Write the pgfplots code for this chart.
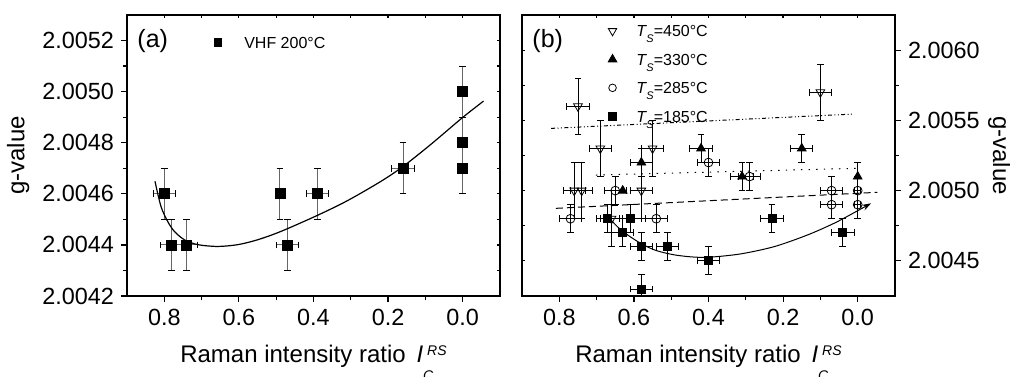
\documentclass[border=0pt]{standalone}
\usepackage{fontspec}
\setmainfont{Liberation Sans}
\usepackage{pgfplots}
\pgfplotsset{compat=1.18}
\usepackage{pgfplotstable}
\usetikzlibrary{arrows.meta}

% ---------- data: panel (a) ----------
\pgfplotstableread{
x y ex ey
0.80 2.0046 0.03 0.0001
0.78 2.0044 0.03 0.0001
0.74 2.0044 0.03 0.0001
0.47 2.0044 0.03 0.0001
0.39 2.0046 0.03 0.0001
0.16 2.0047 0.03 0.0001
}\vhfA
\pgfplotstableread{
x y ey
0.49 2.0046 0.0001
0.00 2.0050 0.0001
0.00 2.0048 0.0001
0.00 2.0047 0.0001
}\vhfB
\pgfplotstableread{
x y
0.825 2.004649
0.809 2.004551
0.791 2.004492
0.773 2.004453
0.746 2.004420
0.710 2.004401
0.657 2.004394
0.603 2.004401
0.550 2.004420
0.487 2.004453
0.389 2.004516
0.308 2.004574
0.219 2.004649
0.159 2.004708
0.085 2.004794
0.000 2.004899
-0.056 2.004963
}\fitA

% ---------- data: panel (b) ----------
\pgfplotstableread{
x y ex ey
0.75 2.0056 0.03 0.0002
0.69 2.0053 0.03 0.0002
0.55 2.0053 0.03 0.0002
0.76 2.0050 0.03 0.0002
0.74 2.0050 0.03 0.0002
0.58 2.0050 0.03 0.0002
0.66 2.0048 0.03 0.0002
0.10 2.0057 0.03 0.0002
}\tA
\pgfplotstableread{
x y ex ey
0.58 2.0052 0.03 0.0001
0.42 2.0053 0.03 0.0001
0.31 2.0051 0.03 0.0001
0.15 2.0053 0.03 0.0001
}\tB
\pgfplotstableread{
x y ey
0.00 2.0051 0.0001
}\tBy
\pgfplotstableread{
x y
0.63 2.0050
}\tBn
\pgfplotstableread{
x y ex ey
0.77 2.0048 0.03 0.0001
0.65 2.0050 0.03 0.0001
0.54 2.0048 0.03 0.0001
0.40 2.0052 0.03 0.0001
0.29 2.0051 0.03 0.0001
0.07 2.0050 0.03 0.0001
0.07 2.0049 0.03 0.0001
0.00 2.0050 0.008 0.0001
0.00 2.0049 0.008 0.0001
}\tC
\pgfplotstableread{
x y ex ey
0.67 2.0048 0.03 0.0001
0.61 2.0048 0.03 0.0001
0.63 2.0047 0.03 0.0001
0.58 2.0046 0.03 0.0001
0.51 2.0046 0.03 0.0001
0.40 2.0045 0.03 0.0001
0.58 2.0043 0.03 0.0001
0.23 2.0048 0.03 0.0001
0.04 2.0047 0.03 0.0001
}\tD

\pgfplotsset{
  panel/.style={scale only axis, width=186.5pt, height=140.5pt, anchor=south west,
    x dir=reverse, xmin=-0.1, xmax=0.9, xtick={0,0.2,0.4,0.6,0.8},
    minor x tick num=1, minor y tick num=1,
    axis line style={line width=0.7pt}, tick style={line width=0.6pt, black},
    scaled ticks=false,
    tick label style={font=\fontsize{11.7}{14}\selectfont},
    /pgf/number format/assume math mode=true,
    xticklabel style={/pgf/number format/.cd, fixed, fixed zerofill, precision=1},
    yticklabel style={/pgf/number format/.cd, fixed, fixed zerofill, precision=4}},
  outer/.style={tick align=outside, xtick pos=bottom, major tick length=3pt, minor tick length=2pt},
  inner/.style={tick align=inside, xtick pos=top, major tick length=1.7pt, minor tick length=1.7pt,
    xticklabels={}, yticklabels={}},
  ebA/.style={error bars/.cd, x dir=both, x explicit, y dir=both, y explicit,
    error bar style={black!60, line width=0.5pt},
    error mark options={rotate=90, black, mark size=1.7pt, line width=0.5pt}},
  ebB/.style={error bars/.cd, x dir=both, x explicit, y dir=both, y explicit,
    error bar style={black, line width=0.45pt},
    error mark options={rotate=90, black, mark size=1.7pt, line width=0.45pt}},
  ebBy/.style={error bars/.cd, y dir=both, y explicit,
    error bar style={black, line width=0.45pt},
    error mark options={rotate=90, black, mark size=1.7pt, line width=0.45pt}},
  leg/.style={legend cell align=left, legend style={draw=none, fill=none, inner sep=0pt,
    font=\fontsize{8}{9.6}\selectfont, nodes={inner sep=0pt, text height=5.8pt, text depth=0pt},
    row sep=8.4pt}},
  legend image code/.code={\path (0pt,0pt) (17pt,0pt); \draw[#1] plot coordinates {(8.5pt,0pt)};},
  xlab/.style={every axis x label/.style={at={(axis description cs:0.5,0)}, anchor=base,
    yshift=-33.3pt, font=\fontsize{12}{14}\selectfont},
    xlabel={Raman intensity ratio\hspace{0.45em}\textit{I}\rlap{\raisebox{-9pt}{\fontsize{7}{8}\selectfont\textit{C}}}\hspace{2pt}\raisebox{3.5pt}{\fontsize{7}{8}\selectfont\textit{RS}}}},
}

\begin{document}
\begin{tikzpicture}
\useasboundingbox (0,0) rectangle (505pt,188pt);

% ===== panel (a) =====
\begin{axis}[panel, inner, at={(63.5pt,40pt)}, ymin=2.0042, ymax=2.0053,
  ytick={2.0042,2.0044,2.0046,2.0048,2.0050,2.0052}, ytick pos=right]
\end{axis}
\begin{axis}[panel, outer, xlab, at={(63.5pt,40pt)}, ymin=2.0042, ymax=2.0053,
  ytick={2.0042,2.0044,2.0046,2.0048,2.0050,2.0052}, ytick pos=left,
  every axis y label/.style={at={(axis description cs:-0.292,0.5)}, anchor=center, rotate=90,
    font=\fontsize{12}{14}\selectfont},
  ylabel={g-value},
  leg, legend style={at={(axis description cs:0.196,0.9246)}, anchor=north west, column sep=4.5pt}]
  \addlegendimage{mark=square*, mark size=1.9pt, black}
  \addlegendentry{VHF 200°C}
  \addplot[only marks, mark=square*, mark size=2.5pt, black, forget plot, ebA]
    table[x=x, y=y, x error=ex, y error=ey] {\vhfA};
  \addplot[only marks, mark=square*, mark size=2.5pt, black, forget plot,
    error bars/.cd, y dir=both, y explicit, error bar style={black!60, line width=0.5pt},
    error mark options={rotate=90, black, mark size=1.7pt, line width=0.5pt}]
    table[x=x, y=y, y error=ey] {\vhfB};
  \addplot[black, line width=0.6pt, smooth, no marks, forget plot] table[x=x, y=y] {\fitA};
  \node[anchor=west, inner sep=0pt, font=\fontsize{12.5}{15}\selectfont] at (axis description cs:0.027,0.907) {(a)};
\end{axis}

% ===== panel (b) =====
\begin{axis}[panel, inner, at={(261pt,40pt)}, ymin=2.00425, ymax=2.00625,
  ytick={2.0045,2.0050,2.0055,2.0060}, ytick pos=left]
\end{axis}
\begin{axis}[panel, outer, xlab, at={(261pt,40pt)}, ymin=2.00425, ymax=2.00625,
  ytick={2.0045,2.0050,2.0055,2.0060}, ytick pos=right, yticklabel pos=right,
  every axis y label/.style={at={(axis description cs:1.28,0.5)}, anchor=center, rotate=-90,
    font=\fontsize{12}{14}\selectfont},
  ylabel={g-value},
  leg, legend style={at={(axis description cs:0.195,0.965)}, anchor=north west, column sep=3.2pt}]
  \addlegendimage{mark=triangle, mark options={rotate=180}, mark size=2.4pt, black}
  \addlegendentry{\textit{T}\kern-0.3pt\raisebox{-3pt}{\fontsize{5.5}{6}\selectfont\textit{S}}=450°C}
  \addlegendimage{mark=triangle*, mark size=2.5pt, black}
  \addlegendentry{\textit{T}\kern-0.3pt\raisebox{-3pt}{\fontsize{5.5}{6}\selectfont\textit{S}}=330°C}
  \addlegendimage{mark=o, mark size=1.9pt, black}
  \addlegendentry{\textit{T}\kern-0.3pt\raisebox{-3pt}{\fontsize{5.5}{6}\selectfont\textit{S}}=285°C}
  \addlegendimage{mark=square*, mark size=1.9pt, black}
  \addlegendentry{\textit{T}\kern-0.3pt\raisebox{-3pt}{\fontsize{5.5}{6}\selectfont\textit{S}}=185°C}

  % trend lines
  \addplot[black, line width=0.5pt, no marks, forget plot,
    dash pattern=on 2pt off 1.2pt on 0.5pt off 1.2pt on 0.5pt off 1.2pt]
    coordinates {(0.822,2.005443) (0.011,2.005545)};
  \addplot[black, line width=0.5pt, no marks, forget plot, dash pattern=on 0.7pt off 3.1pt]
    coordinates {(0.702,2.005111) (0.0,2.005159)};
  \addplot[black, line width=0.5pt, no marks, forget plot, dash pattern=on 3.5pt off 2pt]
    coordinates {(0.809,2.004874) (-0.053,2.004988)};
  \addplot[black, line width=0.5pt, no marks, forget plot, smooth, -{Stealth[length=4.5pt,width=3pt]}]
    coordinates {(0.670,2.004815) (0.635,2.004721) (0.590,2.004638) (0.545,2.004578)
      (0.492,2.004543) (0.438,2.004527) (0.393,2.004527) (0.313,2.004550)
      (0.223,2.004602) (0.134,2.004685) (0.063,2.004768) (0.009,2.004844) (-0.036,2.004910)};

  % data
  \addplot[only marks, mark=square*, mark size=2pt, black, forget plot, ebB]
    table[x=x, y=y, x error=ex, y error=ey] {\tD};
  \addplot[only marks, mark=o, mark size=2.2pt, black, forget plot, ebB]
    table[x=x, y=y, x error=ex, y error=ey] {\tC};
  \addplot[only marks, mark=triangle*, mark size=2.5pt, black, forget plot, ebB]
    table[x=x, y=y, x error=ex, y error=ey] {\tB};
  \addplot[only marks, mark=triangle*, mark size=2.5pt, black, forget plot, ebBy]
    table[x=x, y=y, y error=ey] {\tBy};
  \addplot[only marks, mark=triangle*, mark size=2.5pt, black, forget plot]
    table[x=x, y=y] {\tBn};
  \addplot[only marks, mark=triangle, mark options={rotate=180}, mark size=2.5pt, black, forget plot, ebB]
    table[x=x, y=y, x error=ex, y error=ey] {\tA};
  \node[anchor=west, inner sep=0pt, font=\fontsize{12.5}{15}\selectfont] at (axis description cs:0.027,0.907) {(b)};
\end{axis}
\end{tikzpicture}
\end{document}
